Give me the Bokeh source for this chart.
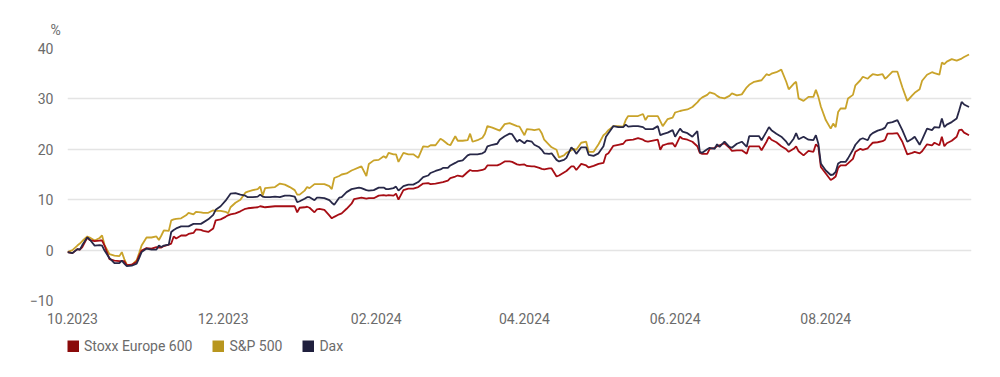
import pandas as pd
from datetime import datetime
from bokeh.plotting import figure
from bokeh.layouts import column
from bokeh.models import (Range1d, FixedTicker, MonthsTicker, DatetimeTickFormatter,
                          Legend, LegendItem, Title)
from bokeh.embed import file_html
from bokeh.resources import INLINE

dates = [
    "2023-09-29", "2023-10-01", "2023-10-03", "2023-10-04", "2023-10-05", "2023-10-07", "2023-10-08",
    "2023-10-10", "2023-10-12", "2023-10-13", "2023-10-14", "2023-10-16", "2023-10-18", "2023-10-20",
    "2023-10-21", "2023-10-22", "2023-10-23", "2023-10-25", "2023-10-27", "2023-10-28", "2023-10-29",
    "2023-10-31", "2023-11-02", "2023-11-04", "2023-11-05", "2023-11-06", "2023-11-07", "2023-11-09",
    "2023-11-10", "2023-11-11", "2023-11-12", "2023-11-14", "2023-11-16", "2023-11-17", "2023-11-19",
    "2023-11-20", "2023-11-22", "2023-11-23", "2023-11-25", "2023-11-27", "2023-11-28", "2023-11-30",
    "2023-12-02", "2023-12-03", "2023-12-04", "2023-12-06", "2023-12-08", "2023-12-10", "2023-12-11",
    "2023-12-13", "2023-12-15", "2023-12-16", "2023-12-17", "2023-12-18", "2023-12-20", "2023-12-22",
    "2023-12-24", "2023-12-26", "2023-12-28", "2023-12-30", "2023-12-31", "2024-01-01", "2024-01-03",
    "2024-01-04", "2024-01-05", "2024-01-07", "2024-01-08", "2024-01-09", "2024-01-11", "2024-01-13",
    "2024-01-14", "2024-01-15", "2024-01-17", "2024-01-18", "2024-01-20", "2024-01-22", "2024-01-23",
    "2024-01-25", "2024-01-26", "2024-01-28", "2024-01-29", "2024-01-31", "2024-02-02", "2024-02-04",
    "2024-02-05", "2024-02-06", "2024-02-08", "2024-02-09", "2024-02-10", "2024-02-12", "2024-02-14",
    "2024-02-16", "2024-02-18", "2024-02-20", "2024-02-22", "2024-02-23", "2024-02-25", "2024-02-27",
    "2024-02-28", "2024-03-01", "2024-03-02", "2024-03-04", "2024-03-05", "2024-03-07", "2024-03-09",
    "2024-03-10", "2024-03-11", "2024-03-13", "2024-03-15", "2024-03-16", "2024-03-17", "2024-03-19",
    "2024-03-21", "2024-03-22", "2024-03-24", "2024-03-26", "2024-03-27", "2024-03-29", "2024-03-30",
    "2024-04-01", "2024-04-02", "2024-04-04", "2024-04-05", "2024-04-07", "2024-04-08", "2024-04-09",
    "2024-04-11", "2024-04-12", "2024-04-14", "2024-04-15", "2024-04-17", "2024-04-18", "2024-04-20",
    "2024-04-21", "2024-04-22", "2024-04-24", "2024-04-26", "2024-04-27", "2024-04-29", "2024-05-01",
    "2024-05-03", "2024-05-04", "2024-05-05", "2024-05-07", "2024-05-09", "2024-05-11", "2024-05-12",
    "2024-05-13", "2024-05-15", "2024-05-17", "2024-05-19", "2024-05-20", "2024-05-21", "2024-05-23",
    "2024-05-25", "2024-05-26", "2024-05-27", "2024-05-29", "2024-05-31", "2024-06-01", "2024-06-03",
    "2024-06-04", "2024-06-06", "2024-06-08", "2024-06-10", "2024-06-11", "2024-06-12", "2024-06-14",
    "2024-06-15", "2024-06-17", "2024-06-18", "2024-06-19", "2024-06-21", "2024-06-23", "2024-06-24",
    "2024-06-26", "2024-06-28", "2024-06-30", "2024-07-01", "2024-07-03", "2024-07-05", "2024-07-06",
    "2024-07-08", "2024-07-09", "2024-07-10", "2024-07-12", "2024-07-14", "2024-07-16", "2024-07-17",
    "2024-07-19", "2024-07-20", "2024-07-21", "2024-07-23", "2024-07-25", "2024-07-27", "2024-07-28",
    "2024-07-29", "2024-07-30", "2024-08-01", "2024-08-03", "2024-08-04", "2024-08-05", "2024-08-06",
    "2024-08-07", "2024-08-09", "2024-08-10", "2024-08-12", "2024-08-13", "2024-08-15", "2024-08-16",
    "2024-08-18", "2024-08-19", "2024-08-20", "2024-08-22", "2024-08-24", "2024-08-25", "2024-08-26",
    "2024-08-28", "2024-08-30", "2024-09-01", "2024-09-03", "2024-09-05", "2024-09-06", "2024-09-08",
    "2024-09-09", "2024-09-11", "2024-09-13", "2024-09-14", "2024-09-16", "2024-09-17", "2024-09-18",
    "2024-09-19", "2024-09-21", "2024-09-23", "2024-09-24", "2024-09-25", "2024-09-26", "2024-09-28",
]

sp500 = [
    -0.4, 0.0, 0.9, 1.3, 1.8, 2.7, 2.5, 1.9, 2.4, 2.9, 1.0, -0.8, -1.1, -1.2, -0.4, -1.8, -2.9, -3.0,
    -2.0, -0.6, 0.9, 2.5, 2.5, 2.7, 2.0, 2.9, 3.9, 3.8, 5.9, 6.1, 6.2, 6.3, 6.9, 7.4, 7.1, 7.6, 7.5,
    7.4, 7.4, 7.9, 7.8, 7.8, 7.6, 7.3, 8.5, 9.4, 10.0, 11.4, 11.6, 11.9, 12.1, 12.6, 10.8, 12.3, 12.4,
    12.5, 13.2, 13.0, 12.5, 11.9, 11.0, 11.0, 11.8, 12.5, 12.3, 13.1, 13.1, 13.1, 13.1, 12.7, 12.1,
    14.3, 14.7, 15.0, 15.2, 15.8, 16.0, 16.4, 16.6, 14.7, 17.1, 17.8, 17.9, 18.6, 18.3, 19.3, 19.0,
    19.0, 17.5, 19.3, 19.0, 19.0, 18.3, 20.6, 20.5, 20.8, 20.8, 22.1, 21.8, 21.0, 20.8, 22.6, 21.7,
    21.7, 21.8, 23.1, 21.5, 21.8, 22.3, 23.1, 24.6, 24.3, 23.9, 23.7, 25.0, 25.2, 25.0, 24.6, 24.5,
    22.8, 24.0, 23.9, 23.8, 24.0, 23.2, 21.9, 20.9, 20.4, 19.9, 18.4, 18.8, 19.3, 19.8, 20.1, 19.9,
    21.3, 21.5, 19.5, 19.5, 21.0, 22.8, 23.2, 23.8, 24.6, 24.6, 24.5, 25.8, 26.6, 26.6, 26.6, 27.0,
    25.8, 26.6, 26.6, 26.6, 25.6, 24.6, 26.0, 26.3, 27.3, 27.6, 27.7, 27.9, 28.4, 29.3, 29.9, 30.3,
    30.8, 31.3, 31.0, 30.6, 30.3, 30.1, 30.6, 31.1, 30.7, 30.9, 32.3, 32.8, 33.4, 33.6, 33.7, 34.9,
    34.7, 35.0, 35.3, 35.8, 33.4, 31.9, 33.0, 33.4, 30.1, 29.6, 30.4, 30.4, 31.8, 30.4, 28.5, 25.8,
    24.1, 25.1, 24.4, 27.4, 28.1, 28.1, 30.1, 30.8, 32.7, 33.7, 34.4, 34.0, 34.5, 34.9, 34.7, 34.9,
    34.0, 34.4, 35.4, 35.4, 32.3, 29.6, 30.7, 31.2, 31.9, 33.6, 34.8, 35.3, 35.1, 34.8, 37.2, 36.9,
    37.4, 37.9, 37.6, 37.8, 38.0, 38.3, 38.8,
]

dax = [
    -0.4, -0.6, 0.2, 0.1, 1.0, 2.5, 2.1, 0.9, 1.0, 0.9, -0.1, -1.6, -2.6, -2.6, -2.1, -2.7, -3.2, -3.1,
    -2.7, -1.6, -0.4, 0.3, 0.1, 0.1, 0.9, 0.6, 0.9, 1.1, 3.6, 4.0, 4.3, 4.7, 4.7, 4.7, 5.2, 5.2, 5.2,
    5.5, 6.1, 7.0, 8.0, 8.7, 9.8, 10.5, 11.2, 11.3, 11.0, 10.8, 10.5, 10.5, 10.6, 11.0, 10.6, 10.5,
    10.5, 10.6, 10.5, 10.8, 10.8, 10.6, 9.5, 9.7, 10.2, 10.5, 10.5, 9.9, 10.4, 10.4, 10.3, 9.9, 9.4,
    9.0, 10.4, 10.5, 11.5, 12.1, 12.2, 12.4, 12.3, 11.9, 11.8, 11.9, 12.4, 12.4, 12.1, 12.1, 12.3,
    12.6, 11.8, 12.7, 13.0, 13.0, 13.5, 14.5, 14.8, 15.3, 15.7, 16.0, 16.3, 16.3, 16.8, 17.3, 17.6,
    17.8, 18.8, 19.0, 19.0, 19.0, 19.2, 19.5, 20.6, 20.9, 21.1, 21.9, 22.6, 23.1, 23.0, 21.5, 21.9,
    21.2, 21.7, 21.5, 20.9, 20.4, 19.9, 19.2, 19.1, 19.2, 17.9, 17.6, 17.9, 18.3, 20.4, 19.9, 19.1,
    20.4, 20.4, 18.9, 18.7, 19.2, 20.6, 22.5, 23.2, 24.6, 24.4, 24.4, 24.9, 24.5, 24.6, 24.6, 24.4,
    24.0, 24.0, 24.0, 24.6, 22.8, 23.0, 23.3, 23.8, 22.5, 24.1, 23.5, 23.2, 22.5, 23.6, 19.5, 19.3,
    20.0, 20.3, 20.1, 21.0, 20.5, 21.5, 20.5, 20.3, 21.1, 21.5, 20.5, 22.6, 22.6, 22.6, 21.8, 23.5,
    24.4, 23.8, 23.1, 22.5, 21.5, 20.8, 22.1, 23.2, 22.0, 22.5, 21.9, 21.8, 22.8, 21.1, 17.2, 15.8,
    14.9, 15.0, 15.5, 17.2, 17.5, 17.5, 18.2, 19.9, 20.9, 22.0, 22.2, 21.8, 22.8, 23.2, 23.7, 24.0,
    24.3, 25.2, 25.4, 25.8, 23.8, 21.5, 22.1, 22.5, 20.9, 21.9, 24.1, 23.8, 24.4, 24.3, 26.1, 24.4,
    24.9, 25.4, 26.1, 27.7, 29.4, 28.9, 28.4,
]

stoxx = [
    -0.4, -0.6, 0.2, 0.1, 0.6, 2.5, 2.0, 1.8, 1.9, 1.9, 0.9, -1.8, -2.1, -2.2, -2.2, -2.2, -3.0, -2.9,
    -2.3, -1.1, -0.1, 0.4, 0.3, 0.6, 0.5, 0.5, 0.8, 1.1, 1.3, 2.7, 2.3, 2.9, 2.9, 3.2, 3.4, 4.1, 4.0,
    3.8, 3.6, 4.3, 5.9, 6.1, 6.6, 6.9, 7.1, 7.3, 7.7, 8.2, 8.3, 8.4, 8.5, 8.7, 8.6, 8.5, 8.6, 8.7,
    8.7, 8.7, 8.7, 8.7, 7.5, 8.4, 8.5, 8.6, 8.4, 7.5, 8.1, 8.2, 8.0, 6.9, 6.3, 6.6, 7.1, 7.3, 8.2,
    9.2, 10.1, 10.3, 10.4, 10.2, 10.3, 10.3, 10.8, 10.9, 10.8, 10.9, 10.8, 11.2, 10.0, 11.9, 12.2,
    12.2, 12.5, 13.2, 13.3, 13.1, 13.2, 13.4, 13.5, 13.8, 14.3, 14.6, 14.8, 14.6, 15.5, 15.9, 15.7,
    15.7, 15.9, 16.1, 16.8, 16.8, 16.8, 17.0, 17.6, 17.6, 17.5, 17.0, 16.9, 17.0, 16.7, 16.6, 16.6,
    16.3, 16.1, 16.0, 16.2, 16.2, 14.6, 14.8, 15.4, 15.7, 16.6, 16.6, 15.9, 17.1, 16.8, 16.4, 16.7,
    17.1, 17.3, 18.9, 19.2, 20.7, 20.9, 21.1, 21.7, 21.8, 21.9, 22.2, 21.9, 21.6, 21.5, 21.7, 21.9,
    19.9, 20.8, 21.1, 21.2, 20.5, 22.5, 22.1, 21.9, 21.5, 20.6, 19.3, 19.1, 19.1, 20.1, 20.3, 20.6,
    20.8, 21.2, 20.3, 19.7, 19.8, 19.8, 19.1, 20.6, 20.6, 20.6, 19.8, 21.5, 22.5, 21.9, 21.4, 20.6,
    20.0, 19.5, 20.1, 20.6, 19.6, 18.8, 19.7, 19.5, 21.0, 20.5, 16.5, 15.2, 13.9, 14.2, 14.6, 16.3,
    16.8, 16.8, 17.2, 18.1, 19.5, 20.1, 19.9, 20.2, 20.8, 21.3, 21.4, 21.6, 21.9, 23.1, 23.1, 23.2,
    21.5, 19.0, 19.3, 19.5, 19.2, 19.6, 21.0, 20.8, 21.3, 20.8, 22.5, 20.6, 21.2, 21.7, 22.5, 23.8,
    23.9, 23.3, 22.8,
]

series_names = ["Stoxx Europe 600", "S&P 500", "Dax"]
series_values = {"Stoxx Europe 600": stoxx, "S&P 500": sp500, "Dax": dax}
line_colors = {"Stoxx Europe 600": "#a60d14", "S&P 500": "#c9a32a", "Dax": "#282848"}
swatch_colors = {"Stoxx Europe 600": "#8a0a0a", "S&P 500": "#b8961e", "Dax": "#1f1f3d"}
y_ticks = [-10, 0, 10, 20, 30, 40]

FONT = "Roboto"
TXT = "#6b6b6b"

x = pd.to_datetime(dates)

p = figure(width=990, height=338, x_axis_type="datetime", output_backend="svg",
           toolbar_location=None,
           x_range=Range1d(datetime(2023, 9, 29), datetime(2024, 9, 29)),
           y_range=Range1d(-10, 40),
           min_border_left=67, min_border_right=19, min_border_top=48, min_border_bottom=38)
p.outline_line_color = None
p.background_fill_color = "white"
p.border_fill_color = "white"

p.xgrid.visible = False
p.ygrid.grid_line_color = "#e4e4e4"
p.ygrid.grid_line_width = 1.5

p.yaxis.ticker = FixedTicker(ticks=y_ticks)
# BokehJS months are zero-based: 1 -> February ... 11 -> December
p.xaxis.ticker = MonthsTicker(months=[1, 3, 5, 7, 9, 11])
p.xaxis.formatter = DatetimeTickFormatter(months="%m.%Y", days="%m.%Y", years="%m.%Y")

for ax in (p.xaxis[0], p.yaxis[0]):
    ax.axis_line_color = None
    ax.major_tick_line_color = None
    ax.minor_tick_line_color = None
    ax.major_tick_out = 0
    ax.major_tick_in = 0
    ax.minor_tick_out = 0
    ax.minor_tick_in = 0
    ax.major_label_text_font = FONT
    ax.major_label_text_font_size = "14px"
    ax.major_label_text_color = TXT
p.yaxis.major_label_standoff = 14
p.xaxis.major_label_standoff = 12

for name in ["S&P 500", "Stoxx Europe 600", "Dax"]:
    p.line(x, series_values[name], line_color=line_colors[name], line_width=1.8)

p.add_layout(Title(text="%", align="left", offset=-17, standoff=21, text_font=FONT,
                   text_font_size="14px", text_font_style="normal", text_color=TXT), "above")

# legend strip below the chart; its swatch renderers sit outside this strip's ranges
lg = figure(width=990, height=32, output_backend="svg", toolbar_location=None,
            x_range=Range1d(0, 1), y_range=Range1d(0, 1),
            x_axis_location=None, y_axis_location=None,
            min_border_left=64, min_border_right=0, min_border_top=0, min_border_bottom=0)
lg.outline_line_color = None
lg.xgrid.visible = False
lg.ygrid.visible = False
lg.background_fill_color = "white"
lg.border_fill_color = "white"

items = []
for name in series_names:
    r = lg.line(x, series_values[name], line_color=swatch_colors[name], line_width=12,
                line_cap="butt")
    items.append(LegendItem(label=name, renderers=[r]))

legend = Legend(items=items, orientation="horizontal", location="top_left",
                glyph_width=12, glyph_height=12, label_standoff=5, spacing=20,
                padding=0, margin=0, border_line_color=None, background_fill_alpha=0,
                label_text_font=FONT, label_text_font_size="14px", label_text_color=TXT)
lg.add_layout(legend)

open("out.html", "w").write(file_html(column(p, lg, spacing=0), INLINE))
